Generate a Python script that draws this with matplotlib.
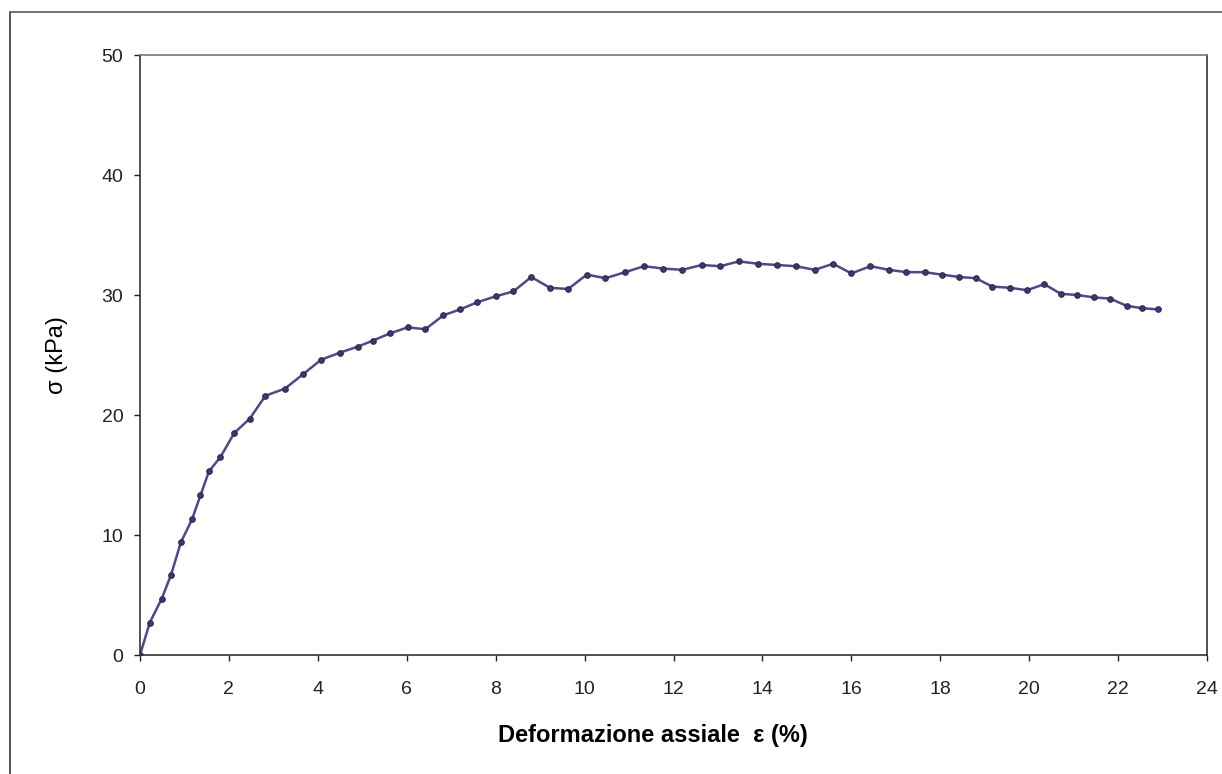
import numpy as np
import matplotlib.pyplot as plt
from matplotlib.lines import Line2D

# deformazione assiale (%) e tensione (kPa)
eps = [0.0, 0.22, 0.49, 0.70, 0.92, 1.17, 1.36, 1.55, 1.81, 2.12, 2.47, 2.82,
       3.26, 3.67, 4.07, 4.50, 4.90, 5.24, 5.62, 6.02, 6.42, 6.82, 7.20, 7.59,
       8.01, 8.40, 8.80, 9.22, 9.63, 10.05, 10.47, 10.91, 11.34, 11.77, 12.20,
       12.63, 13.05, 13.47, 13.91, 14.33, 14.75, 15.18, 15.59, 16.00, 16.43,
       16.84, 17.24, 17.65, 18.03, 18.43, 18.80, 19.17, 19.57, 19.95, 20.34,
       20.71, 21.08, 21.46, 21.82, 22.19, 22.54, 22.89]
sigma = [0.0, 2.7, 4.7, 6.7, 9.4, 11.3, 13.3, 15.3, 16.5, 18.5, 19.7, 21.6,
         22.2, 23.4, 24.6, 25.2, 25.7, 26.2, 26.8, 27.3, 27.15, 28.3, 28.8, 29.4,
         29.9, 30.3, 31.5, 30.6, 30.5, 31.7, 31.4, 31.9, 32.4, 32.2, 32.1,
         32.5, 32.4, 32.8, 32.6, 32.5, 32.4, 32.1, 32.6, 31.8, 32.4,
         32.1, 31.9, 31.9, 31.7, 31.5, 31.4, 30.7, 30.6, 30.4, 30.9,
         30.1, 30.0, 29.8, 29.7, 29.1, 28.9, 28.8]

plt.rcParams['font.family'] = ['Liberation Sans', 'DejaVu Sans']

fig = plt.figure(figsize=(12.22, 7.74), dpi=100)
ax = fig.add_axes([140 / 1222, 1 - 655 / 774, 1067 / 1222, 600 / 774])

ax.plot(eps, sigma, color='#4a4a8c', lw=1.8, marker='o', ms=4,
        mfc='#3a3a70', mec='#2a2a55', mew=0.8)

ax.set_xlim(0, 24)
ax.set_ylim(0, 50)
ax.set_xticks(np.arange(0, 25, 2))
ax.set_yticks(np.arange(0, 51, 10))
ax.tick_params(direction='out', length=4, width=1, labelsize=14, colors='#222222')
ax.tick_params(axis='x', pad=15)
ax.tick_params(axis='y', pad=8)
for s in ax.spines.values():
    s.set_color('#333333')
    s.set_linewidth(1.2)
ax.spines['top'].set_color('#777777')

ax.set_xlabel('Deformazione assiale  ε (%)', fontsize=17, fontweight='bold')
ax.xaxis.set_label_coords(0.481, -0.115)
ax.set_ylabel('σ (kPa)', fontsize=17, labelpad=24)

# cornice esterna
fig.add_artist(Line2D([10 / 1222, 10 / 1222], [0, 1 - 12 / 774], color='#444444', lw=1.3))
fig.add_artist(Line2D([10 / 1222, 1], [1 - 12 / 774, 1 - 12 / 774], color='#666666', lw=1.3))

fig.savefig('out.png', dpi=100)
